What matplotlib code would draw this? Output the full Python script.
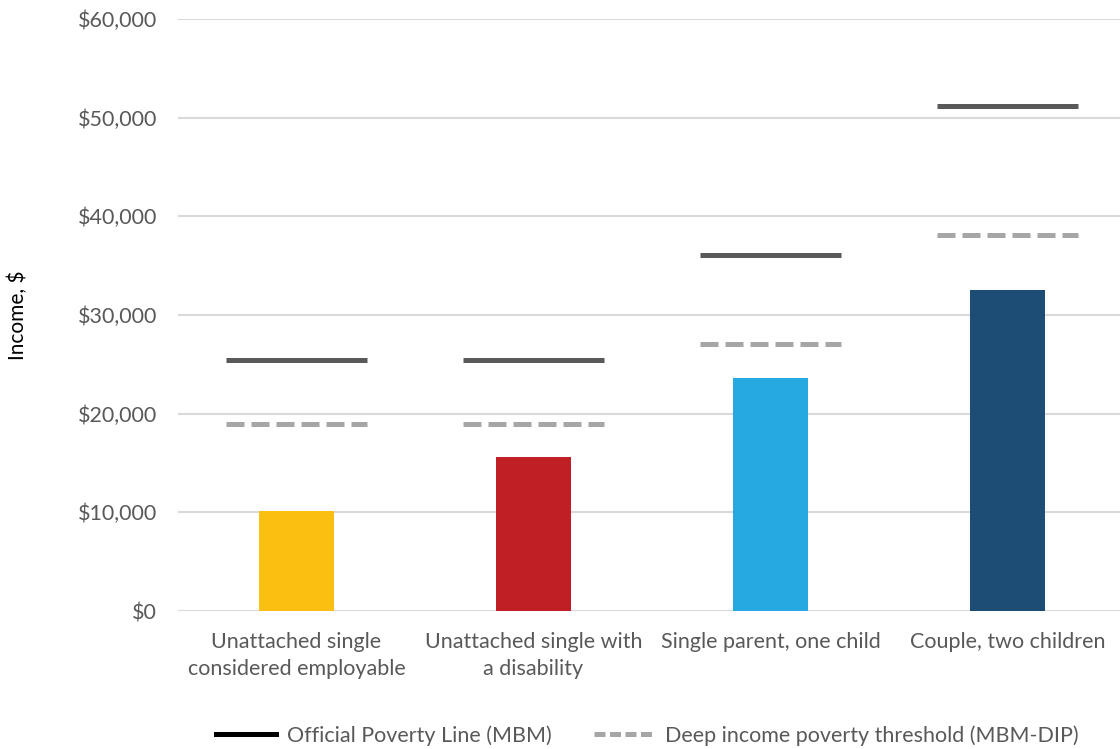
import matplotlib.pyplot as plt
from matplotlib.lines import Line2D
from matplotlib.ticker import FuncFormatter

plt.rcParams['font.family'] = ['Lato', 'DejaVu Sans']

# ---------- DATA ----------
categories = ["Unattached single\nconsidered employable",
              "Unattached single with\na disability",
              "Single parent, one child",
              "Couple, two children"]
income = [10100, 15600, 23600, 32550]
mbm = [25450, 25450, 36050, 51200]
mbm_dip = [18950, 18950, 27050, 38150]
bar_colors = ["#fbbf12", "#c01f25", "#26a9e1", "#1d4c75"]

text_c = "#595959"

# ---------- PLOT ----------
fig = plt.figure(figsize=(11.2, 7.49), dpi=100)
ax = fig.add_axes([0.159, 0.1842, 0.841, 0.7904])

x = list(range(len(categories)))
ax.bar(x, income, width=0.316, color=bar_colors, zorder=2)

for i in x:
    ax.hlines(mbm[i], i - 0.298, i + 0.298, color="#595959", lw=3.6, zorder=3)
    ax.hlines(mbm_dip[i], i - 0.298, i + 0.298, color="#a6a6a6", lw=3.6,
              linestyles=(0, (3.6, 1.4)), zorder=3)

ax.set_xlim(-0.5, 3.475)
ax.set_ylim(0, 60000)
ax.set_yticks(range(0, 60001, 10000))
ax.yaxis.set_major_formatter(FuncFormatter(lambda v, p: f"${v:,.0f}"))
ax.set_xticks(x)
ax.set_xticklabels(categories, fontsize=15.5, color=text_c, linespacing=1.45)
ax.tick_params(axis="y", labelsize=15.5, labelcolor=text_c, length=0, pad=15)
ax.tick_params(axis="x", length=0, pad=15)
ax.grid(axis="y", color="#d9d9d9", lw=1.5, zorder=0)
for s in ax.spines.values():
    s.set_visible(False)
ax.set_ylabel("Income, $", fontsize=15, color="black", labelpad=36)

handles = [Line2D([], [], color="black", lw=3.6),
           Line2D([], [], color="#a6a6a6", lw=3.6, linestyle=(0, (2.2, 0.9)))]
fig.legend(handles, ["Official Poverty Line (MBM)", "Deep income poverty threshold (MBM-DIP)"],
           loc="center", bbox_to_anchor=(0.578, 0.018), ncol=2, frameon=False,
           fontsize=15.5, labelcolor=text_c, handlelength=2.8, columnspacing=2.0,
           handletextpad=0.5)

fig.savefig("out.png", dpi=100)
